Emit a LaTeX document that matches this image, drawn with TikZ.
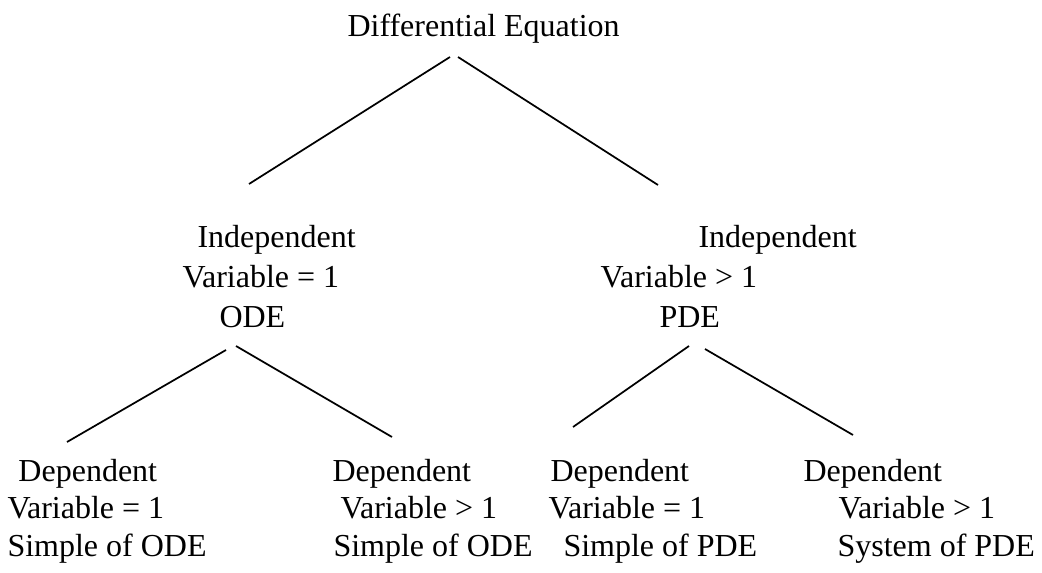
\documentclass[tikz,border=0pt]{standalone}
\usepackage{fontspec}
\setmainfont{Liberation Serif}

\tikzset{every picture/.style={line width=0.75pt}}

\begin{document}
\begin{tikzpicture}[x=0.75pt,y=0.75pt,yscale=-1,xscale=1,
  txt/.style={anchor=base west,inner sep=0pt,font=\fontsize{24}{28}\selectfont},
  branch/.style={line width=1.3pt}]
%set diagram size 1042 x 573
\path [use as bounding box] (0,0) rectangle (1042,573);

% Text Node
\node [txt] (de) at (347,37) {Differential Equation};
% Text Node
\node [txt] (indl) at (197,248) {Independent};
\node [txt] (varl) at (182,288) {Variable = 1};
\node [txt] (ode) at (219,328) {ODE};
% Text Node
\node [txt] (indr) at (698,248) {Independent};
\node [txt] (varr) at (600,288) {Variable > 1};
\node [txt] (pde) at (659,328) {PDE};
% Text Node
\node [txt] (depa) at (18,481) {Dependent};
\node [txt] (vara) at (7,518) {Variable = 1};
\node [txt] (simpa) at (7,556) {Simple of ODE};
% Text Node
\node [txt] (depb) at (332,481) {Dependent};
\node [txt] (varb) at (340,518) {Variable > 1};
\node [txt] (simpb) at (333,556) {Simple of ODE};
% Text Node
\node [txt] (depc) at (550,481) {Dependent};
\node [txt] (varc) at (548,518) {Variable = 1};
\node [txt] (simpc) at (563,556) {Simple of PDE};
% Text Node
\node [txt] (depd) at (803,481) {Dependent};
\node [txt] (vard) at (838,518) {Variable > 1};
\node [txt] (sysd) at (837,556) {System of PDE};

%Line ends
\coordinate (de-l) at (450,57);
\coordinate (de-r) at (458,57);
\coordinate (indl-t) at (249,184);
\coordinate (indr-t) at (658,185);
\coordinate (ode-l) at (226,350);
\coordinate (ode-r) at (236,346);
\coordinate (depa-t) at (67,442);
\coordinate (depb-t) at (392,437);
\coordinate (pde-l) at (689,346);
\coordinate (pde-r) at (705,349);
\coordinate (depc-t) at (573,427);
\coordinate (depd-t) at (853,435);

%Straight Lines
\draw [branch] (de-l) -- (indl-t);
\draw [branch] (de-r) -- (indr-t);
%Straight Lines
\draw [branch] (ode-l) -- (depa-t);
\draw [branch] (ode-r) -- (depb-t);
%Straight Lines
\draw [branch] (pde-l) -- (depc-t);
\draw [branch] (pde-r) -- (depd-t);

\end{tikzpicture}
\end{document}
